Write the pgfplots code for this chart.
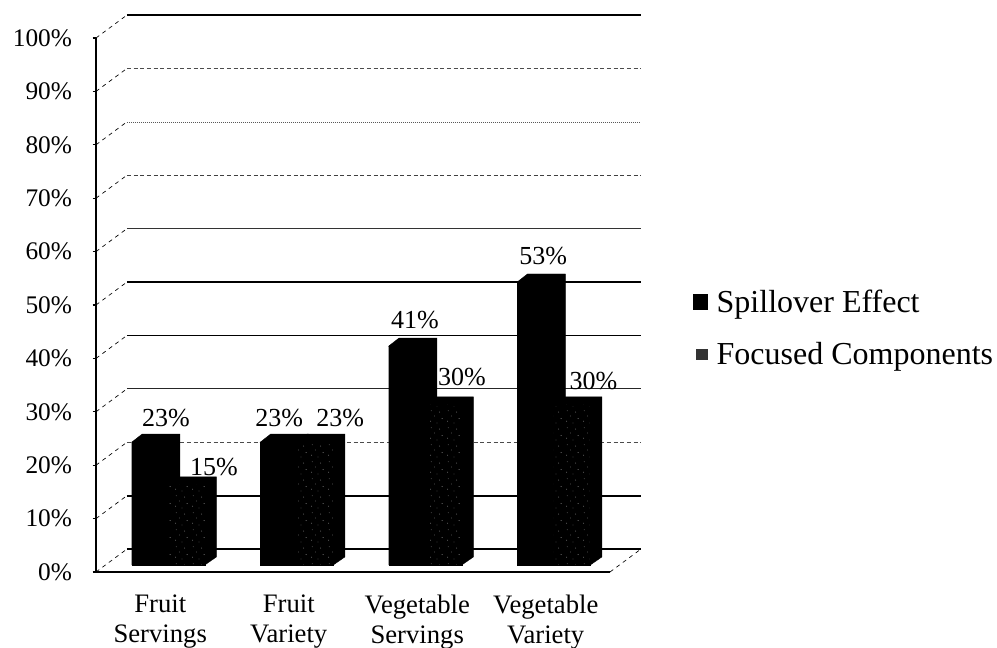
\documentclass[border=0pt]{standalone}
\usepackage{fontspec}
\setmainfont{Liberation Serif}
\usepackage{pgfplots}
\pgfplotsset{compat=1.18}
\usetikzlibrary{patterns}
\pgfdeclarepatternformonly{speck}{\pgfqpoint{0pt}{0pt}}{\pgfqpoint{13pt}{13pt}}{\pgfqpoint{13pt}{13pt}}{%
  \pgfpathcircle{\pgfqpoint{2pt}{3pt}}{.35pt}%
  \pgfpathcircle{\pgfqpoint{7pt}{1.5pt}}{.3pt}%
  \pgfpathcircle{\pgfqpoint{11pt}{5pt}}{.35pt}%
  \pgfpathcircle{\pgfqpoint{5pt}{7pt}}{.3pt}%
  \pgfpathcircle{\pgfqpoint{9pt}{10pt}}{.35pt}%
  \pgfpathcircle{\pgfqpoint{2.5pt}{11pt}}{.3pt}%
  \pgfusepath{fill}}
\newcommand{\fs}{\fontsize{19}{22.5}\selectfont}
\newcommand{\fx}{\fontsize{20}{22.5}\selectfont}
\begin{document}
\begin{tikzpicture}
\path[use as bounding box] (0pt,0pt) rectangle (747.75pt,485.25pt);
% frame: axes, ticks, wall lines, floor, legend
\begin{axis}[
  at={(72pt,56.25pt)}, anchor=south west, scale only axis,
  width=385.5pt, height=400.5pt, clip=false,
  xmin=0, xmax=4, ymin=0, ymax=100,
  axis lines=left, axis line style={-, line width=1.1pt, black},
  ytick={0,10,...,100},
  yticklabel={\pgfmathprintnumber{\tick}\%},
  /pgf/number format/assume math mode=true,
  yticklabel style={font=\fs, anchor=east, xshift=-12pt},
  ytick style={black, line width=.8pt},
  tick align=outside, major tick length=2.5pt,
  xtick={0.5,1.5,2.5,3.5},
  xticklabels={Fruit\\Servings,Fruit\\Variety,Vegetable\\Servings,Vegetable\\Variety},
  xticklabel style={font=\fx, align=center, anchor=north, yshift=-11pt},
  x tick style={draw=none},
  extra x ticks={0,1,2,3,4}, extra x tick labels={},
  extra x tick style={tick style={black, line width=.8pt, draw=black}},
  legend style={at={(1.1615,0.457)}, anchor=west, draw=none, fill=none, inner sep=0pt, outer sep=0pt,
    font=\fontsize{24}{27}\selectfont, row sep=17pt},
  legend cell align=left,
]
\addlegendimage{legend image code/.code={\fill[black] (0.05cm,-5.5pt) rectangle (0.43cm,5.5pt); \path (0.59cm,0pt) circle (0pt);}}
\addlegendimage{legend image code/.code={\fill[black!80] (0.14cm,-4pt) rectangle (0.42cm,4pt); \path (0.59cm,0pt) circle (0pt);}}
\legend{Spillover Effect,Focused Components}
% wall lines
\addplot[forget plot, black, line width=1.3pt] coordinates {(0.241,4.3) (4.241,4.3)};
\addplot[forget plot, black, line width=1.3pt] coordinates {(0.241,14.3) (4.241,14.3)};
\addplot[forget plot, black!70, line width=.6pt, densely dashed] coordinates {(0.241,24.3) (4.241,24.3)};
\addplot[forget plot, black!85, line width=.7pt] coordinates {(0.241,34.3) (4.241,34.3)};
\addplot[forget plot, black, line width=.9pt] coordinates {(0.241,44.3) (4.241,44.3)};
\addplot[forget plot, black, line width=.9pt] coordinates {(0.241,54.3) (4.241,54.3)};
\addplot[forget plot, black!80, line width=.6pt] coordinates {(0.241,64.3) (4.241,64.3)};
\addplot[forget plot, black!75, line width=.6pt, densely dashed] coordinates {(0.241,74.3) (4.241,74.3)};
\addplot[forget plot, black!65, line width=.5pt, densely dotted] coordinates {(0.241,84.3) (4.241,84.3)};
\addplot[forget plot, black!70, line width=.5pt, densely dashed] coordinates {(0.241,94.3) (4.241,94.3)};
\addplot[forget plot, black, line width=1.2pt] coordinates {(0.241,104.3) (4.241,104.3)};
% depth lines
\addplot[forget plot, black, line width=.5pt, dashed] coordinates {(0,0) (0.241,4.3)};
\addplot[forget plot, black, line width=.5pt, dashed] coordinates {(0,10) (0.241,14.3)};
\addplot[forget plot, black, line width=.5pt, dashed] coordinates {(0,20) (0.241,24.3)};
\addplot[forget plot, black, line width=.5pt, dashed] coordinates {(0,30) (0.241,34.3)};
\addplot[forget plot, black, line width=.5pt, dashed] coordinates {(0,40) (0.241,44.3)};
\addplot[forget plot, black, line width=.5pt, dashed] coordinates {(0,50) (0.241,54.3)};
\addplot[forget plot, black, line width=.5pt, dashed] coordinates {(0,60) (0.241,64.3)};
\addplot[forget plot, black, line width=.5pt, dashed] coordinates {(0,70) (0.241,74.3)};
\addplot[forget plot, black, line width=.5pt, dashed] coordinates {(0,80) (0.241,84.3)};
\addplot[forget plot, black, line width=.5pt, dashed] coordinates {(0,90) (0.241,94.3)};
\addplot[forget plot, black, line width=.5pt, dashed] coordinates {(0,100) (0.241,104.3)};
\addplot[forget plot, black, line width=.5pt, dashed] coordinates {(4,0) (4.241,4.3)};
\end{axis}
% bars: same scales, on the plane where the bar fronts stand
\begin{axis}[
  at={(78pt,61.5pt)}, anchor=south west, scale only axis,
  width=385.5pt, height=400.5pt, clip=false,
  xmin=0, xmax=4, ymin=0, ymax=100,
  axis lines=none,
]
% top and side faces
\addplot[forget plot, fill=black, draw=black, line width=.3pt] coordinates {(0.216,23) (0.296,24.5) (0.59,24.5) (0.59,1.5) (0.5,0) (0.5,23)} -- cycle;
\addplot[forget plot, fill=black, draw=black, line width=.3pt] coordinates {(0.5,15) (0.58,16.5) (0.874,16.5) (0.874,1.5) (0.784,0) (0.784,15)} -- cycle;
\addplot[forget plot, fill=black, draw=black, line width=.3pt] coordinates {(1.216,23) (1.296,24.5) (1.59,24.5) (1.59,1.5) (1.5,0) (1.5,23)} -- cycle;
\addplot[forget plot, fill=black, draw=black, line width=.3pt] coordinates {(1.5,23) (1.58,24.5) (1.874,24.5) (1.874,1.5) (1.784,0) (1.784,23)} -- cycle;
\addplot[forget plot, fill=black, draw=black, line width=.3pt] coordinates {(2.216,41) (2.296,42.5) (2.59,42.5) (2.59,1.5) (2.5,0) (2.5,41)} -- cycle;
\addplot[forget plot, fill=black, draw=black, line width=.3pt] coordinates {(2.5,30) (2.58,31.5) (2.874,31.5) (2.874,1.5) (2.784,0) (2.784,30)} -- cycle;
\addplot[forget plot, fill=black, draw=black, line width=.3pt] coordinates {(3.216,53) (3.296,54.5) (3.59,54.5) (3.59,1.5) (3.5,0) (3.5,53)} -- cycle;
\addplot[forget plot, fill=black, draw=black, line width=.3pt] coordinates {(3.5,30) (3.58,31.5) (3.874,31.5) (3.874,1.5) (3.784,0) (3.784,30)} -- cycle;
% front faces
\addplot[ybar, bar width=27.4pt, fill=black, draw=black, line width=.2pt, bar shift=-13.7pt] coordinates {(0.5,23) (1.5,23) (2.5,41) (3.5,53)};
\addplot[ybar, bar width=27.4pt, fill=black, draw=black, line width=.2pt, bar shift=13.7pt,
  postaction={pattern=speck, pattern color=black!45}] coordinates {(0.5,15) (1.5,23) (2.5,30) (3.5,30)};
\end{axis}
% value labels
\begin{axis}[
  at={(78pt,61.5pt)}, anchor=south west, scale only axis,
  width=385.5pt, height=400.5pt, clip=false,
  xmin=0, xmax=4, ymin=0, ymax=100,
  axis lines=none,
  /pgf/number format/assume math mode=true,
  nodes near coords={\pgfmathprintnumber{\pgfplotspointmeta}\%},
  point meta=explicit,
  every node near coord/.append style={font=\fontsize{19.5}{22}\selectfont, anchor=base, inner sep=0pt, yshift=0pt},
]
\addplot[only marks, mark=none, draw=none] coordinates {
 (0.483,26) [23]
 (0.856,16.7) [15]
 (1.363,26) [23]
 (1.838,26) [23]
 (2.42,44.2) [41]
 (2.786,33.6) [30]
 (3.417,56.2) [53]
 (3.808,32.8) [30]
};
\end{axis}
\end{tikzpicture}
\end{document}
